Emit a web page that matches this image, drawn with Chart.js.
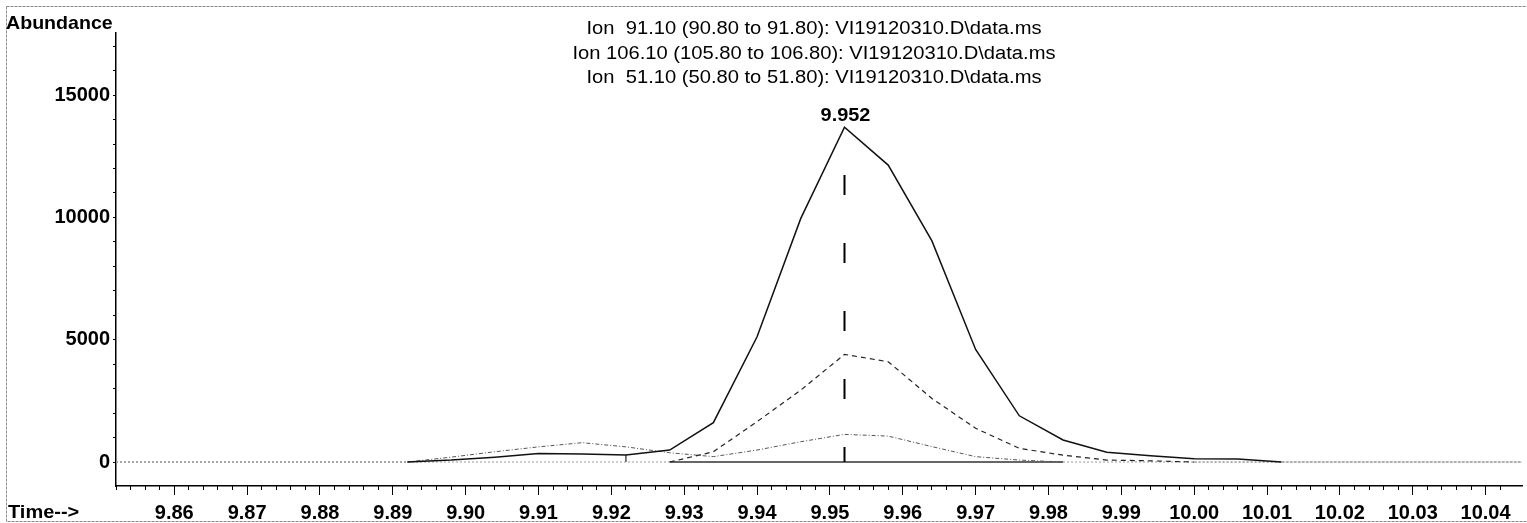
<!DOCTYPE html>
<html>
<head>
<meta charset="utf-8">
<script src="https://cdn.jsdelivr.net/npm/chart.js@4.4.1/dist/chart.umd.min.js"></script>
<style>
html,body{margin:0;padding:0;background:#fff;}
#wrap{width:1527px;height:523px;position:relative;}
</style>
</head>
<body>
<div id="wrap"><canvas id="c"></canvas></div>
<script>
// ---- data ----
const times = [9.852, 9.856, 9.862, 9.868, 9.874, 9.880, 9.886, 9.892, 9.898, 9.904, 9.910, 9.916, 9.922, 9.928, 9.934, 9.940, 9.946, 9.952, 9.958, 9.964, 9.970, 9.976, 9.982, 9.988, 9.994, 10.000, 10.006, 10.012, 10.018, 10.024, 10.030, 10.036, 10.042, 10.045];
const ion91  = [0, 0, 0, 0, 0, 0, 0, 0, 80, 200, 350, 330, 290, 490, 1610, 5120, 9960, 13690, 12140, 9040, 4600, 1890, 900, 400, 260, 130, 120, 0, 0, 0, 0, 0, 0, 0];
const ion106 = [0, 0, 0, 0, 0, 0, 0, 0, 0, 0, 0, 0, 0, 0, 420, 1650, 2940, 4400, 4100, 2600, 1380, 560, 280, 80, 50, 0, 0, 0, 0, 0, 0, 0, 0, 0];
const ion51  = [0, 0, 0, 0, 0, 0, 0, 0, 200, 420, 620, 790, 620, 380, 220, 490, 830, 1130, 1060, 630, 220, 80, 0, 0, 0, 0, 0, 0, 0, 0, 0, 0, 0, 0];
const seriesTitles = [
  'Ion  91.10 (90.80 to 91.80): VI19120310.D\\data.ms',
  'Ion 106.10 (105.80 to 106.80): VI19120310.D\\data.ms',
  'Ion  51.10 (50.80 to 51.80): VI19120310.D\\data.ms'
];
const xTickLabels = ['9.86','9.87','9.88','9.89','9.90','9.91','9.92','9.93','9.94','9.95','9.96','9.97','9.98','9.99','10.00','10.01','10.02','10.03','10.04'];
const yTickLabels = ['0','5000','10000','15000'];
const yMinorTicks = [0, 1000, 2000, 3000, 4000, 5000, 6000, 7000, 8000, 9000, 10000, 11000, 12000, 13000, 14000, 15000, 16000, 17000];
const yAxisTitle = 'Abundance';
const xAxisTitle = 'Time-->';
const peakTime = 9.952;
const peakValue = 13690;
const peakLabel = '9.952';
const peakMarkerTop = 11730;          // top of the retention-time marker
const integrationStart = [9.922, 290]; // start tick (time, height)
const integrationBaseline = [9.928, 9.982];
const xRange = [9.852, 10.045];
const yRange = [-980, 17540];

// ---- chart ----
const FONT = 'Liberation Sans, Arial, sans-serif';
const toXY = (xs, ys) => xs.map((x, i) => ({x, y: ys[i]}));
const zeroSeg = (ctx) => ctx.p0.parsed.y === 0 && ctx.p1.parsed.y === 0;
const segStyle = {
  borderColor: ctx => zeroSeg(ctx) ? '#9a9a9a' : undefined,
  borderDash: ctx => zeroSeg(ctx) ? [2, 2] : undefined,
  borderWidth: ctx => zeroSeg(ctx) ? 1 : undefined
};

const textPlugin = {
  id: 'chromTexts',
  afterDraw(chart) {
    const ctx = chart.ctx;
    const xs = chart.scales.x, ys = chart.scales.y;
    const W = chart.width;
    ctx.save();
    // outer frame
    ctx.strokeStyle = '#888';
    ctx.lineWidth = 1;
    ctx.setLineDash([3, 1]);
    ctx.beginPath();
    ctx.moveTo(6.5, 6.5); ctx.lineTo(W, 6.5);
    ctx.moveTo(6.5, 6.5); ctx.lineTo(6.5, 521.5);
    ctx.lineTo(W, 521.5);
    ctx.stroke();
    ctx.setLineDash([]);

    const stext = (s, x, y, align, font, sx) => {
      ctx.save();
      ctx.translate(x, y);
      ctx.scale(sx, 1);
      ctx.font = font;
      ctx.fillStyle = '#000';
      ctx.textAlign = align;
      ctx.textBaseline = 'alphabetic';
      ctx.fillText(s, 0, 0);
      ctx.restore();
    };
    stext(yAxisTitle, 6, 29, 'left', 'bold 18.5px ' + FONT, 1.06);
    stext(xAxisTitle, 8, 518, 'left', 'bold 18.5px ' + FONT, 1.08);
    const cx = 814;
    const baselines = [34, 58.5, 83];
    seriesTitles.forEach((t, i) => stext(t, cx, baselines[i], 'center', '18px ' + FONT, 1.12));
    const px = xs.getPixelForValue(peakTime);
    const py = ys.getPixelForValue(peakValue);
    stext(peakLabel, px + 1, py - 6, 'center', 'bold 19px ' + FONT, 1.05);
    ctx.restore();
  }
};

new Chart(document.getElementById('c'), {
  type: 'line',
  data: {
    datasets: [
      { label: seriesTitles[0], data: toXY(times, ion91), borderColor: '#111', borderWidth: 1.5, segment: segStyle },
      { label: seriesTitles[1], data: toXY(times, ion106), borderColor: '#222', borderWidth: 1.2, borderDash: [5, 4], segment: segStyle },
      { label: seriesTitles[2], data: toXY(times, ion51), borderColor: '#555', borderWidth: 1, borderDash: [4, 2, 1, 2], segment: segStyle },
      { label: 'rt marker', data: [{x: peakTime, y: peakMarkerTop}, {x: peakTime, y: 0}], borderColor: '#000', borderWidth: 2, borderDash: [20, 48] },
      { label: 'start', data: [{x: integrationStart[0], y: 0}, {x: integrationStart[0], y: integrationStart[1]}], borderColor: '#222', borderWidth: 1.2 },
      { label: 'baseline', data: [{x: integrationBaseline[0], y: 0}, {x: integrationBaseline[1], y: 0}], borderColor: '#333', borderWidth: 1.5 }
    ]
  },
  options: {
    responsive: true,
    maintainAspectRatio: false,
    animation: false,
    elements: { point: { radius: 0 }, line: { tension: 0, fill: false } },
    layout: { padding: { top: 33, right: 5, left: 0, bottom: 0 } },
    plugins: { legend: { display: false }, tooltip: { enabled: false }, title: { display: false } },
    scales: {
      x: {
        type: 'linear', position: 'bottom', min: xRange[0], max: xRange[1],
        afterBuildTicks: s => { s.ticks = xTickLabels.map(l => ({ value: parseFloat(l) })); },
        afterFit: s => { s.height = 37; },
        grid: { drawOnChartArea: false, drawTicks: true, tickLength: 9, tickColor: '#000', tickWidth: 1 },
        border: { display: true, color: '#000', width: 1.5 },
        ticks: { autoSkip: false, maxRotation: 0, minRotation: 0, padding: 6, color: '#000',
                 font: { family: FONT, size: 20, weight: 'bold' }, callback: (v, i) => xTickLabels[i] }
      },
      xMinor: {
        type: 'linear', position: { y: yRange[0] }, min: xRange[0], max: xRange[1],
        afterBuildTicks: s => { s.ticks = s.ticks.filter(t => Math.abs(t.value / 0.002 - Math.round(t.value / 0.002)) < 1e-6); },
        afterFit: s => { s.height = 0; },
        grid: { drawOnChartArea: false, drawTicks: true, tickLength: 4, tickColor: '#000', tickWidth: 1 },
        border: { display: false },
        ticks: { stepSize: 0.002, display: false, autoSkip: false }
      },
      y: {
        type: 'linear', position: 'left', min: yRange[0], max: yRange[1],
        afterBuildTicks: s => { s.ticks = yMinorTicks.map(v => ({ value: v })); },
        afterFit: s => { s.width = 116; },
        grid: { drawOnChartArea: false, drawTicks: true, tickLength: 3, tickColor: '#000', tickWidth: 1 },
        border: { display: true, color: '#000', width: 1.5 },
        ticks: { autoSkip: false, padding: 3, color: '#000',
                 font: { family: FONT, size: 20, weight: 'bold' },
                 callback: (v, i) => yTickLabels.includes(String(yMinorTicks[i])) ? String(yMinorTicks[i]) : '' }
      }
    }
  },
  plugins: [textPlugin]
});
</script>
</body>
</html>
